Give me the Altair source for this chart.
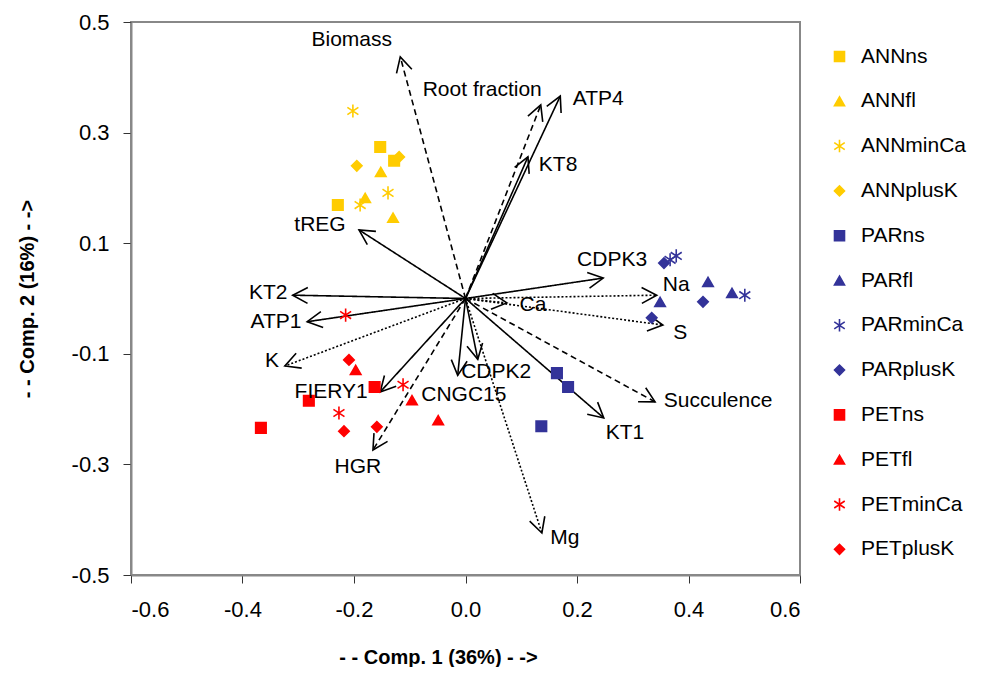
import altair as alt
import pandas as pd
import numpy as np

# ---------------- data ----------------
series = ["ANNns", "ANNfl", "ANNminCa", "ANNplusK",
          "PARns", "PARfl", "PARminCa", "PARplusK",
          "PETns", "PETfl", "PETminCa", "PETplusK"]
series_colors = ["#FFCC00"] * 4 + ["#333399"] * 4 + ["#FF0000"] * 4

ann_ns_x = [-0.153, -0.128, -0.229]
ann_ns_y = [0.274, 0.249, 0.169]
ann_fl_x = [-0.152, -0.180, -0.130]
ann_fl_y = [0.229, 0.182, 0.146]
ann_minca_x = [-0.202, -0.139, -0.189]
ann_minca_y = [0.339, 0.191, 0.169]
ann_plusk_x = [-0.195, -0.119]
ann_plusk_y = [0.240, 0.256]

par_ns_x = [0.164, 0.184, 0.136]
par_ns_y = [-0.135, -0.160, -0.231]
par_fl_x = [0.435, 0.349, 0.478]
par_fl_y = [0.030, -0.006, 0.010]
par_minca_x = [0.367, 0.378, 0.501]
par_minca_y = [0.070, 0.077, 0.006]
par_plusk_x = [0.356, 0.426, 0.334]
par_plusk_y = [0.064, -0.006, -0.035]

pet_ns_x = [-0.163, -0.281, -0.367]
pet_ns_y = [-0.160, -0.185, -0.234]
pet_fl_x = [-0.197, -0.096, -0.049]
pet_fl_y = [-0.129, -0.184, -0.220]
pet_minca_x = [-0.215, -0.112, -0.227]
pet_minca_y = [-0.030, -0.156, -0.207]
pet_plusk_x = [-0.209, -0.218, -0.159]
pet_plusk_y = [-0.111, -0.240, -0.232]

# loading vectors (arrow tips)
var_names = ["Biomass", "Root fraction", "ATP4", "KT8", "CDPK3", "Na", "Ca", "S",
             "Succulence", "KT1", "Mg", "CDPK2", "CNGC15", "FIERY1", "HGR",
             "K", "ATP1", "KT2", "tREG"]
var_x = [-0.117, 0.135, 0.170, 0.112, 0.247, 0.343, 0.074, 0.354,
         0.340, 0.248, 0.137, 0.022, -0.014, -0.153, -0.166,
         -0.324, -0.284, -0.310, -0.191]
var_y = [0.437, 0.350, 0.366, 0.256, 0.037, 0.006, -0.008, -0.048,
         -0.187, -0.216, -0.424, -0.110, -0.139, -0.169, -0.274,
         -0.122, -0.042, 0.006, 0.124]
var_style = ["dashed", "dashed", "solid", "solid", "solid", "dotted", "dotted", "dotted",
             "dashed", "solid", "dotted", "solid", "solid", "solid", "dashed",
             "dotted", "solid", "solid", "solid"]
# label anchor (centre of text), in data units
label_x = [-0.204, 0.030, 0.238, 0.166, 0.263, 0.378, 0.121, 0.385,
           0.453, 0.286, 0.178, 0.055, -0.003, -0.241, -0.193,
           -0.347, -0.340, -0.354, -0.261]
label_y = [0.467, 0.377, 0.361, 0.241, 0.070, 0.024, -0.012, -0.062,
           -0.185, -0.243, -0.433, -0.133, -0.175, -0.169, -0.305,
           -0.113, -0.042, 0.010, 0.133]

# ---------------- build tables ----------------
xs_all = [ann_ns_x, ann_fl_x, ann_minca_x, ann_plusk_x,
          par_ns_x, par_fl_x, par_minca_x, par_plusk_x,
          pet_ns_x, pet_fl_x, pet_minca_x, pet_plusk_x]
ys_all = [ann_ns_y, ann_fl_y, ann_minca_y, ann_plusk_y,
          par_ns_y, par_fl_y, par_minca_y, par_plusk_y,
          pet_ns_y, pet_fl_y, pet_minca_y, pet_plusk_y]
rows = []
for name, xs_, ys_ in zip(series, xs_all, ys_all):
    for a, b in zip(xs_, ys_):
        rows.append({"series": name, "x": a, "y": b})
points = pd.DataFrame(rows)

W, H = 669, 553
arrows = pd.DataFrame({"name": var_names, "x": var_x, "y": var_y, "style": var_style,
                       "lx": label_x, "ly": label_y})
arrows["x0"] = 0.0
arrows["y0"] = 0.0
arrows["ang"] = (np.degrees(np.arctan2(arrows["x"] * W / 1.2, arrows["y"] * H / 1.0)) + 360) % 360

STAR = "M0,-1.25L0,1.25M-1.05,-0.7L1.05,0.7M-1.05,0.7L1.05,-0.7"
HEAD = "M-0.53,1L0,0L0.53,1"
shapes = ["square", "triangle-up", STAR, "diamond"] * 3

FONT = "Liberation Sans"
xscale = alt.Scale(domain=[-0.6, 0.6], nice=False, zero=False)
yscale = alt.Scale(domain=[-0.5, 0.5], nice=False, zero=False)
HYPHEN = "replace(datum.label, '\u2212', '-')"

xaxis = alt.Axis(values=[-0.6, -0.4, -0.2, 0.0, 0.2, 0.4, 0.6], format=".1f",
                 labelExpr=HYPHEN,
                 title="- - Comp. 1 (36%) - ->", titleX=307, titleY=82,
                 titleBaseline="middle", titleAlign="center", labelPadding=16)
yaxis = alt.Axis(values=[-0.5, -0.3, -0.1, 0.1, 0.3, 0.5], format=".1f",
                 labelExpr=HYPHEN,
                 title="- - Comp. 2 (16%) - ->", titleX=-104, titleY=H / 2,
                 titleBaseline="middle", titleAlign="center", labelPadding=14)

lines = alt.Chart(arrows).mark_rule(strokeWidth=1.6, color="black").encode(
    x=alt.X("x0:Q", scale=xscale, axis=xaxis),
    y=alt.Y("y0:Q", scale=yscale, axis=yaxis),
    x2="x:Q",
    y2="y:Q",
    strokeDash=alt.StrokeDash("style:N",
                              scale=alt.Scale(domain=["solid", "dashed", "dotted"],
                                              range=[[1, 0], [6, 4], [2, 2]]),
                              legend=None),
)

heads = alt.Chart(arrows).mark_point(shape=HEAD, size=900, filled=False, color="black",
                                      strokeWidth=1.6, opacity=1).encode(
    x=alt.X("x:Q", scale=xscale),
    y=alt.Y("y:Q", scale=yscale),
    angle=alt.Angle("ang:Q", scale=None),
)

labels = alt.Chart(arrows).mark_text(font=FONT, fontSize=21, align="center",
                                      baseline="middle", color="black").encode(
    x=alt.X("lx:Q", scale=xscale),
    y=alt.Y("ly:Q", scale=yscale),
    text="name:N",
)

leg = alt.Legend(title=None, orient="none", legendX=698, legendY=24,
                 labelFont=FONT, labelFontSize=21, labelColor="black",
                 symbolSize=100, symbolStrokeWidth=1.6, rowPadding=22.8,
                 labelOffset=11, padding=0, symbolOpacity=1)

pts = alt.Chart(points).mark_point(filled=True, opacity=1, strokeWidth=1.6, size=110).encode(
    x=alt.X("x:Q", scale=xscale),
    y=alt.Y("y:Q", scale=yscale),
    fill=alt.Fill("series:N", scale=alt.Scale(domain=series, range=series_colors), legend=leg),
    stroke=alt.Stroke("series:N", scale=alt.Scale(domain=series, range=series_colors), legend=leg),
    shape=alt.Shape("series:N", scale=alt.Scale(domain=series, range=shapes), legend=leg),
)

chart = alt.layer(lines, heads, pts, labels).properties(
    width=W, height=H,
    autosize=alt.AutoSizeParams(type="none"),
    padding={"left": 123, "top": 14, "right": 172, "bottom": 92},
).configure_view(
    stroke="#888888", strokeWidth=2
).configure_axis(
    labelFont=FONT, labelFontSize=22, labelColor="black",
    titleFont=FONT, titleFontSize=20, titleFontWeight="bold", titleColor="black",
    domainColor="#888888", domainWidth=2, tickColor="#333333", tickSize=8,
    tickWidth=1, grid=False,
)

chart.save("out.html", embed_options={"renderer": "svg", "actions": False})
